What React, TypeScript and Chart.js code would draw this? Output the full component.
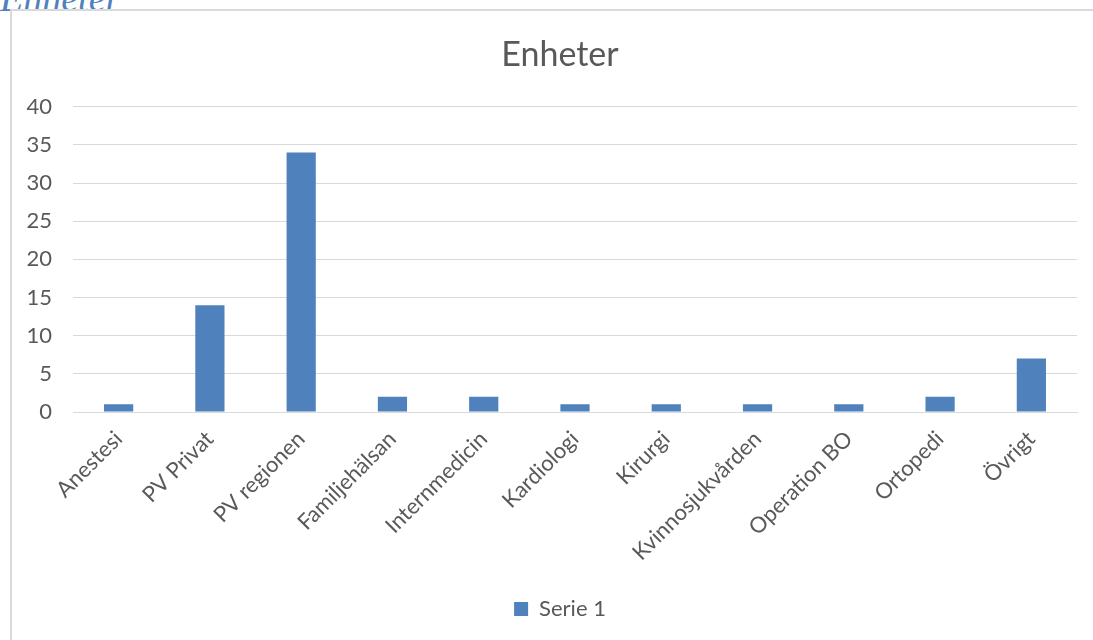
import React, { useEffect, useRef } from "react";
import { Chart, registerables } from "chart.js";

Chart.register(...registerables);

const categories = [
  "Anestesi",
  "PV Privat",
  "PV regionen",
  "Familjehälsan",
  "Internmedicin",
  "Kardiologi",
  "Kirurgi",
  "Kvinnosjukvården",
  "Operation BO",
  "Ortopedi",
  "Övrigt",
];
const serie1 = [1, 14, 34, 2, 2, 1, 1, 1, 1, 2, 7];
const seriesName = "Serie 1";
const chartTitle = "Enheter";
const yTicks = [0, 5, 10, 15, 20, 25, 30, 35, 40];

const FONT = "Lato, 'Open Sans', sans-serif";
const TEXT = "#595959";
const GRID = "#d9d9d9";
const BAR = "#4F81BD";

const W = 1096;
const H = 630;

export default function App() {
  const ref = useRef<HTMLCanvasElement | null>(null);

  useEffect(() => {
    document.documentElement.style.overflow = "hidden";
    document.body.style.overflow = "hidden";
    if (!ref.current) return;
    const chart = new Chart(ref.current, {
      type: "bar",
      data: {
        labels: categories,
        datasets: [
          {
            label: seriesName,
            data: serie1,
            backgroundColor: BAR,
            borderWidth: 0,
            barPercentage: 0.32,
            categoryPercentage: 1,
          },
        ],
      },
      options: {
        responsive: false,
        animation: false,
        devicePixelRatio: 1,
        layout: { padding: { left: 0, right: 0, top: 0, bottom: 11 } },
        plugins: {
          title: {
            display: true,
            text: chartTitle,
            color: TEXT,
            font: { family: FONT, size: 34, weight: "normal" },
            padding: { top: 24, bottom: 31 },
          },
          legend: {
            display: true,
            position: "bottom",
            labels: {
              color: TEXT,
              font: { family: FONT, size: 22 },
              boxWidth: 14,
              boxHeight: 14,
              padding: 10,
            },
          },
          tooltip: { enabled: false },
        },
        scales: {
          x: {
            grid: { display: false, drawTicks: false },
            border: { display: true, color: GRID, width: 1 },
            ticks: {
              color: TEXT,
              font: { family: FONT, size: 22 },
              maxRotation: 45,
              minRotation: 45,
              autoSkip: false,
              padding: 14,
            },
            afterFit: (s: any) => {
              s.height = 176;
            },
          },
          y: {
            min: 0,
            max: 40,
            afterBuildTicks: (s: any) => {
              s.ticks = yTicks.map((v) => ({ value: v }));
            },
            grid: { color: GRID, lineWidth: 1, drawTicks: false },
            border: { display: false },
            ticks: {
              color: TEXT,
              font: { family: FONT, size: 22 },
              padding: 21,
            },
            afterFit: (s: any) => {
              s.width = 61;
            },
          },
          yRight: {
            type: "linear",
            position: "right",
            display: true,
            min: 0,
            max: 40,
            grid: { display: false, drawTicks: false },
            border: { display: false },
            ticks: { display: false },
            afterFit: (s: any) => {
              s.width = 31;
            },
          },
        },
      },
    });
    return () => chart.destroy();
  }, []);

  return (
    <div
      style={{
        position: "fixed",
        left: 0,
        top: 0,
        width: 1093,
        height: 640,
        overflow: "hidden",
        background: "#fff",
      }}
    >
      <div
        style={{
          position: "absolute",
          left: 0,
          top: -24,
          font: "italic 38px 'Liberation Serif', serif",
          lineHeight: "normal",
          color: "#4F81BD",
          whiteSpace: "nowrap",
        }}
      >
        Enheter
      </div>
      <div
        style={{
          position: "absolute",
          left: 10,
          top: 9,
          width: 1083,
          height: 631,
          borderLeft: "2px solid #d9d9d9",
          borderTop: "2px solid #d9d9d9",
          boxSizing: "border-box",
          overflow: "hidden",
        }}
      >
        <canvas
          ref={ref}
          width={W}
          height={H}
          style={{ position: "absolute", left: 0, top: 0, width: W, height: H }}
        />
      </div>
    </div>
  );
}
